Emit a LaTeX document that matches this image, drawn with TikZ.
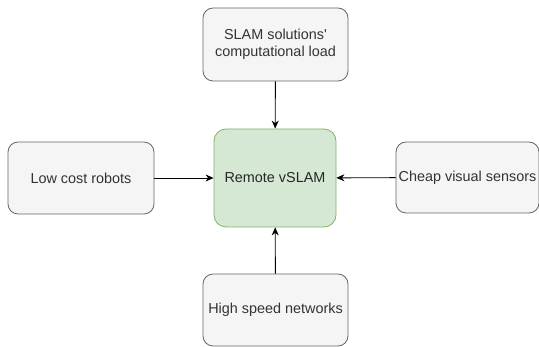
\documentclass[tikz,border=0pt]{standalone}
\usepackage{fontspec}
\setmainfont{Liberation Sans}[Ligatures=TeXOff]
\usetikzlibrary{arrows.meta}
\definecolor{grayfill}{HTML}{F5F5F5}
\definecolor{graydraw}{HTML}{666666}
\definecolor{greenfill}{HTML}{D5E8D4}
\definecolor{greendraw}{HTML}{82B366}
\definecolor{txt}{HTML}{333333}
\tikzset{
  graybox/.style={draw=graydraw, fill=grayfill, rounded corners=10pt, line width=0.8pt, inner sep=0pt, align=center, text=txt, font=\fontsize{14.4}{17.5}\selectfont},
  greenbox/.style={draw=greendraw, fill=greenfill, rounded corners=12pt, line width=0.8pt, inner sep=0pt, align=center, text=black!85, font=\fontsize{14.4}{17.5}\selectfont},
  conn/.style={-{Stealth[length=8pt,width=7pt,inset=2.5pt]}, line width=0.9pt, black}
}
\begin{document}
\begin{tikzpicture}[x=1pt,y=-1pt]
\useasboundingbox (0,0) rectangle (539,347);
\node[greenbox, minimum width=122pt, minimum height=98pt] (c) at (275,178) {Remote vSLAM};
\node[graybox, minimum width=145pt, minimum height=73pt] (t) at (275.5,44.5) {SLAM solutions'\\computational load};
\node[graybox, minimum width=146pt, minimum height=72pt] (l) at (81,178) {Low cost robots};
\node[graybox, minimum width=143pt, minimum height=71pt] (r) at (467.5,177.5) {};
\node[text=txt, font=\fontsize{14.4}{17.5}\selectfont, inner sep=0pt] (rt) at (r.center) {Cheap visual sensors};
\node[graybox, minimum width=145pt, minimum height=72pt] (b) at (275.5,310) {High speed networks};
\draw[conn] (t) -- (c);
\draw[conn] (l) -- (c);
\draw[conn] (r) -- (c);
\draw[conn] (b) -- (c);
\end{tikzpicture}
\end{document}
